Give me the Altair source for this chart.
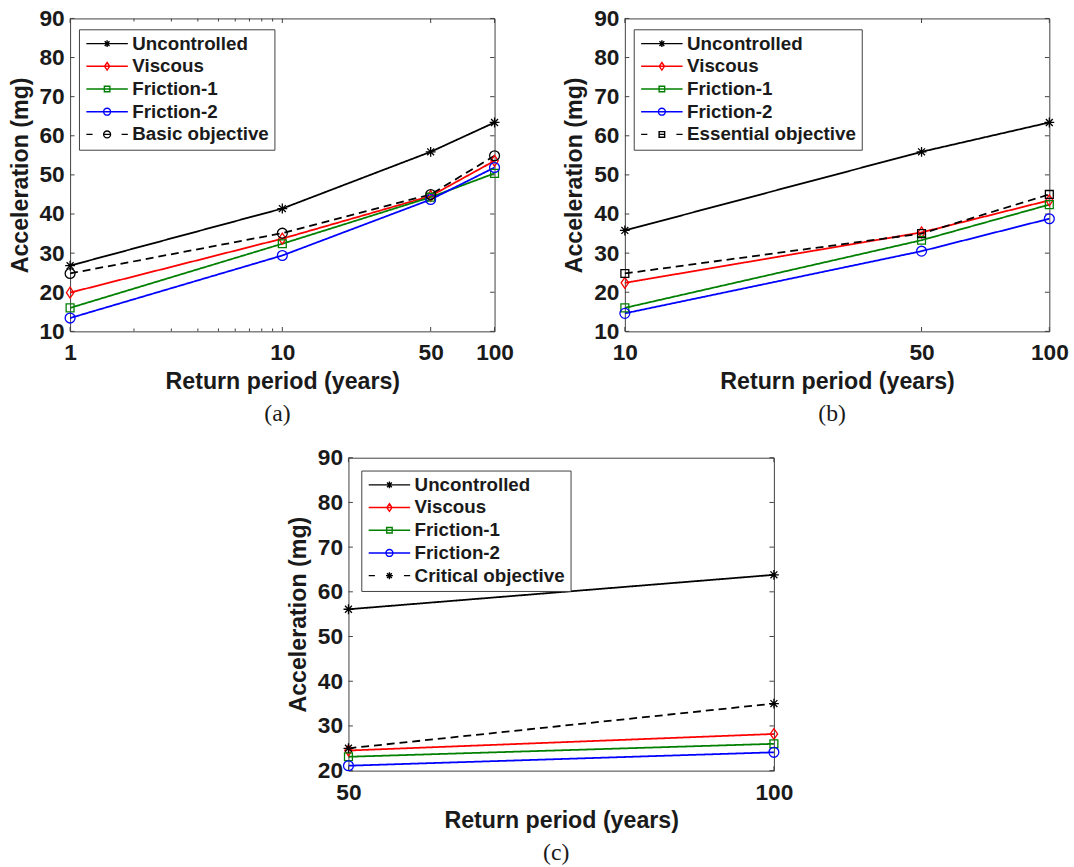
import altair as alt
import pandas as pd

# ---------------- data ----------------
series_base = ["Uncontrolled", "Viscous", "Friction-1", "Friction-2"]
colors = ["#000000", "#ff0000", "#008000", "#0000ff", "#000000"]

periods_a = [1, 10, 50, 100]
a_uncontrolled = [26.8, 41.4, 55.9, 63.4]
a_viscous = [19.9, 33.7, 44.6, 53.6]
a_friction1 = [16.0, 32.4, 44.3, 50.4]
a_friction2 = [13.4, 29.4, 43.7, 51.9]
a_objective = [24.8, 35.1, 45.0, 54.9]

periods_b = [10, 50, 100]
b_uncontrolled = [35.8, 55.9, 63.4]
b_viscous = [22.4, 35.3, 43.5]
b_friction1 = [16.0, 33.3, 42.4]
b_friction2 = [14.6, 30.5, 38.8]
b_objective = [24.8, 35.0, 45.0]

periods_c = [50, 100]
c_uncontrolled = [56.1, 63.8]
c_viscous = [24.5, 28.2]
c_friction1 = [23.1, 26.0]
c_friction2 = [21.1, 24.1]
c_objective = [25.0, 35.0]

y_ticks_ab = [10, 20, 30, 40, 50, 60, 70, 80, 90]
y_ticks_c = [20, 30, 40, 50, 60, 70, 80, 90]
x_labels_a = [1, 10, 50, 100]
x_minor_a = [2, 3, 4, 5, 6, 7, 8, 9]
x_labels_b = [10, 50, 100]
x_labels_c = [50, 100]

# ---------------- styles ----------------
FRAME = "#404040"
TXT = "#1a1a1a"
SANS = "Liberation Sans"
SERIF = "Liberation Serif"

ASTER = "M-1,0H1M0,-1V1M-0.7,-0.7L0.7,0.7M-0.7,0.7L0.7,-0.7"
DIAM = "M0,-1.1L0.75,0L0,1.1L-0.75,0Z"
SQUARE = "M-0.8,-0.8H0.8V0.8H-0.8Z"
CIRCLE = "M-1,0A1,1,0,1,1,1,0A1,1,0,1,1,-1,0Z"
LINE = "M-6,0H6"
DASHES = "M-6,0H-4.2M-1,0H1M4.2,0H6"


def make_panel(periods, vals, obj_name, obj_marker, x_dom, y_dom, x_labels,
               x_minor, y_ticks, lx, ly, caption, width, height):
    names = series_base + [obj_name]
    rows = []
    for n, v in zip(names, vals):
        for p, a in zip(periods, v):
            rows.append({"period": p, "acc": a, "series": n})
    df = pd.DataFrame(rows)

    xs = alt.Scale(type="log", domain=x_dom, nice=False)
    ys = alt.Scale(domain=y_dom, nice=False, zero=False)
    xax = alt.Axis(values=x_labels, title="Return period (years)", format="d",
                   labelFlush=False, labelPadding=11, titlePadding=5,
                   grid=False, ticks=False, domain=False)
    yax = alt.Axis(values=y_ticks, title="Acceleration (mg)", format="d",
                   labelFlush=False, labelPadding=6, titlePadding=7,
                   grid=False, ticks=False, domain=False)
    cs = alt.Scale(domain=names, range=colors)

    markers = [ASTER, DIAM, SQUARE, CIRCLE, obj_marker]
    leg_paths = [LINE + m for m in markers[:4]] + [DASHES + obj_marker]

    layers = []

    def xt(v, size, pos):
        d = pd.DataFrame({"v": v})
        return alt.Chart(d).mark_tick(orient="vertical", size=size, thickness=1,
                                      color=FRAME, opacity=1).encode(
            x=alt.X("v:Q", scale=xs, axis=xax), y=alt.value(pos))

    def yt(v, size, pos):
        d = pd.DataFrame({"v": v})
        return alt.Chart(d).mark_tick(orient="horizontal", size=size, thickness=1,
                                      color=FRAME, opacity=1).encode(
            y=alt.Y("v:Q", scale=ys, axis=yax), x=alt.value(pos))

    layers += [xt(x_labels, 4.5, height - 2.25), xt(x_labels, 4.5, 2.25),
               yt(y_ticks, 4.5, 2.25), yt(y_ticks, 4.5, width - 2.25)]
    if x_minor:
        layers += [xt(x_minor, 3, height - 1.5), xt(x_minor, 3, 1.5)]

    lines = alt.Chart(df).mark_line(strokeWidth=1.8).encode(
        x=alt.X("period:Q", scale=xs, axis=xax),
        y=alt.Y("acc:Q", scale=ys, axis=yax),
        color=alt.Color("series:N", scale=cs, legend=None),
        strokeDash=alt.StrokeDash("series:N", legend=None, scale=alt.Scale(
            domain=names, range=[[1, 0], [1, 0], [1, 0], [1, 0], [8, 5]])),
    )
    pts = alt.Chart(df).mark_point(filled=False, opacity=1, strokeWidth=1.3, size=100).encode(
        x=alt.X("period:Q", scale=xs, axis=xax),
        y=alt.Y("acc:Q", scale=ys, axis=yax),
        color=alt.Color("series:N", scale=cs, legend=None),
        shape=alt.Shape("series:N", legend=None,
                        scale=alt.Scale(domain=names, range=markers)),
    )
    leg = alt.Legend(title=None, orient="none", legendX=lx, legendY=ly,
                     strokeColor=FRAME, fillColor="white", padding=5,
                     labelFont=SANS, labelFontSize=19, labelFontWeight="bold",
                     labelColor=TXT, labelLimit=400, symbolSize=49,
                     symbolStrokeWidth=1.4, symbolOffset=14, labelOffset=16,
                     rowPadding=3)
    legend_layer = alt.Chart(df).transform_filter("false").mark_point(
        filled=False, opacity=1, strokeWidth=1.4).encode(
        x=alt.X("period:Q", scale=xs, axis=xax),
        y=alt.Y("acc:Q", scale=ys, axis=yax),
        color=alt.Color("series:N", scale=cs, legend=leg),
        shape=alt.Shape("series:N", legend=leg,
                        scale=alt.Scale(domain=names, range=leg_paths)),
    )
    layers += [lines, pts, legend_layer]

    return alt.layer(*layers).resolve_scale(
        color="independent", shape="independent", strokeDash="independent"
    ).properties(
        width=width, height=height,
        title=alt.TitleParams(caption, orient="bottom", font=SERIF, fontSize=24,
                              fontWeight="normal", color=TXT, anchor="middle",
                              frame="group", offset=9, dx=-5),
    )


pa = make_panel(periods_a,
                [a_uncontrolled, a_viscous, a_friction1, a_friction2, a_objective],
                "Basic objective", CIRCLE, [1, 100], [10, 90], x_labels_a, x_minor_a,
                y_ticks_ab, 9, 11, "(a)", 430, 317)
pb = make_panel(periods_b,
                [b_uncontrolled, b_viscous, b_friction1, b_friction2, b_objective],
                "Essential objective", SQUARE, [10, 100], [10, 90], x_labels_b, None,
                y_ticks_ab, 9, 11, "(b)", 430, 317)
pc = make_panel(periods_c,
                [c_uncontrolled, c_viscous, c_friction1, c_friction2, c_objective],
                "Critical objective", ASTER, [50, 100], [20, 90], x_labels_c, None,
                y_ticks_c, 13, 13, "(c)", 431, 317)

spacer = alt.Chart(pd.DataFrame({"v": [0]})).mark_point(opacity=0).encode(
    x=alt.value(0), y=alt.value(0)
).properties(width=217, height=10, view=alt.ViewBackground(stroke="transparent"))

chart = alt.vconcat(
    alt.hconcat(pa, pb, spacing=48),
    alt.hconcat(spacer, pc, spacing=0),
    spacing=20,
).properties(
    padding={"left": 7, "top": 1, "right": 5, "bottom": 0},
    background="white",
).configure_view(
    stroke=FRAME, strokeWidth=1
).configure_axis(
    labelFont=SANS, labelFontSize=23, labelFontWeight="bold", labelColor=TXT,
    titleFont=SANS, titleFontSize=23.5, titleFontWeight="bold", titleColor=TXT,
)

chart.save("out.html", embed_options={"renderer": "svg", "actions": False})
